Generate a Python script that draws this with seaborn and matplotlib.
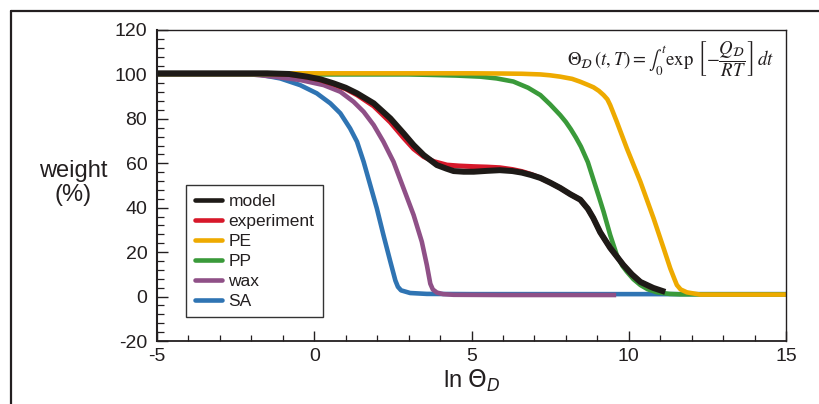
import matplotlib
matplotlib.use("Agg")
import matplotlib.pyplot as plt
import seaborn as sns
from matplotlib.lines import Line2D
from matplotlib.ticker import MultipleLocator

# ---- data ----
sa_x = [-5, -3, -2.2, -1.72, -1.08, -0.45, 0.08, 0.51, 0.83, 1.14, 1.36, 1.57, 1.78, 1.99, 2.2, 2.42, 2.58, 2.66, 2.76, 3.05, 3.58, 5, 10, 15]
sa_y = [100, 100, 100, 99.9, 98.2, 95.2, 91.5, 87, 82.5, 75.7, 69.7, 60.7, 50.2, 39.7, 27.7, 15.7, 7.2, 4.4, 2.8, 1.6, 1.2, 1.1, 1.1, 1.1]

wax_x = [-5, -2, -1.29, -0.45, 0.3, 0.83, 1.25, 1.57, 1.89, 2.2, 2.52, 2.84, 3.16, 3.42, 3.58, 3.69, 3.77, 3.9, 4.1, 4.43, 6, 9.6]
wax_y = [100, 100, 99, 97.5, 95.2, 92.2, 87.7, 83.2, 77.2, 69.7, 60.7, 48.7, 36.7, 24.7, 14.2, 5.8, 3.2, 1.8, 1.1, 0.8, 0.7, 0.7]

pp_x = [-5, 3, 3.69, 4.5, 5.28, 5.8, 6.33, 6.8, 7.19, 7.5, 7.82, 8.0, 8.16, 8.32, 8.48, 8.7, 8.88, 9.05, 9.2, 9.41, 9.62, 9.8, 9.94, 10.15, 10.37, 10.6, 10.9, 11.3, 11.64, 15]
pp_y = [100, 100, 99.8, 99.5, 99, 98.2, 96.8, 94, 90.7, 86.5, 81.7, 78.6, 75.3, 71.6, 67.5, 60.5, 52.5, 45, 38.2, 27.7, 18.7, 13.8, 11.2, 7.8, 5.2, 3.3, 1.9, 1.2, 1, 1]

pe_x = [-5, 2, 5, 6, 6.6, 7.19, 7.5, 7.82, 8.2, 8.46, 8.7, 8.88, 9.05, 9.2, 9.32, 9.41, 9.5, 9.62, 9.94, 10.37, 10.79, 11.11, 11.32, 11.45, 11.53, 11.65, 11.85, 12.27, 15]
pe_y = [100.5, 100.5, 100.5, 100.4, 100.3, 100.0, 99.6, 99, 98, 96.7, 95.3, 94.2, 92.6, 90.7, 88.8, 86.2, 83, 78.7, 66.7, 51.7, 35.2, 21.7, 12.7, 8, 5.2, 3.2, 1.9, 0.9, 0.9]

exp_x = [-5, -1.5, -0.8, -0.23, 0.2, 0.61, 1.0, 1.36, 1.89, 2.42, 2.84, 3.16, 3.48, 3.8, 4.22, 4.6, 5.07, 5.5, 5.9, 6.3, 6.6, 6.9, 7.19, 7.5, 7.82, 8.15, 8.46, 8.7, 8.87, 9.09, 9.41, 9.83, 10.1, 10.37, 10.7]
exp_y = [100.3, 100.3, 100, 98.8, 97.5, 95.6, 93.5, 90.8, 85.8, 78.5, 71.5, 66.5, 63, 60.8, 59.2, 58.8, 58.5, 58.3, 58, 57.2, 56.3, 55, 53.4, 51.3, 48.9, 46, 43.6, 39.5, 35.4, 29, 21.9, 14.2, 10, 6.6, 4.2]

model_x = [-5, -1.5, -0.8, -0.23, 0.2, 0.61, 1.0, 1.36, 1.89, 2.42, 2.84, 3.16, 3.48, 3.9, 4.2, 4.43, 4.75, 5.07, 5.5, 5.9, 6.3, 6.6, 6.9, 7.19, 7.5, 7.82, 8.15, 8.46, 8.7, 8.87, 9.09, 9.41, 9.83, 10.1, 10.37, 10.78, 11.16]
model_y = [100.5, 100.5, 100.2, 99, 97.8, 96, 94, 91.5, 87, 80.2, 73.5, 68.2, 63.7, 59.2, 57.6, 56.5, 56.2, 56.2, 56.6, 56.9, 56.5, 55.8, 54.7, 53.4, 51.3, 48.9, 46, 43.6, 39.5, 35.4, 29, 21.9, 14.2, 10, 6.6, 3.9, 2.1]

x_ticks = [-5, 0, 5, 10, 15]
y_ticks = [-20, 0, 20, 40, 60, 80, 100, 120]
legend_order = ["model", "experiment", "PE", "PP", "wax", "SA"]

colors = {
    "model": "#1e1a17",
    "experiment": "#d7182a",
    "PE": "#eeaa00",
    "PP": "#3a9a3a",
    "wax": "#8f5087",
    "SA": "#2f74b3",
}

sns.set_style("ticks")
plt.rcParams["font.family"] = ["Liberation Sans", "DejaVu Sans"]

fig = plt.figure(figsize=(8.19, 4.04), dpi=100)
W, H = 819, 404
ax = fig.add_axes([157 / W, 1 - 341 / H, (786 - 157) / W, (341 - 30) / H])

series = [
    ("SA", sa_x, sa_y, 3.3),
    ("wax", wax_x, wax_y, 3.3),
    ("PP", pp_x, pp_y, 3.3),
    ("PE", pe_x, pe_y, 3.3),
    ("experiment", exp_x, exp_y, 3.6),
    ("model", model_x, model_y, 4.3),
]
for name, xs, ys, lw in series:
    sns.lineplot(x=xs, y=ys, ax=ax, color=colors[name], linewidth=lw,
                 sort=False, estimator=None, legend=False,
                 solid_capstyle="butt", solid_joinstyle="round")

ax.set_xlim(-5, 15)
ax.set_ylim(-20, 120)
ax.set_xticks(x_ticks)
ax.set_yticks(y_ticks)
ax.set_xticklabels([str(v) for v in x_ticks])
ax.set_yticklabels([str(v) for v in y_ticks])
ax.xaxis.set_minor_locator(MultipleLocator(1))
ax.yaxis.set_minor_locator(MultipleLocator(4))
ax.tick_params(axis="both", which="both", direction="in", colors="#231f20",
               labelsize=14, labelcolor="#231f20")
ax.tick_params(axis="x", which="major", length=7, width=1.0, pad=5)
ax.tick_params(axis="x", which="minor", length=4, width=0.9)
ax.tick_params(axis="y", which="major", length=8, width=1.0, pad=7)
ax.tick_params(axis="y", which="minor", length=5, width=0.9)
for side in ["left", "bottom", "top", "right"]:
    ax.spines[side].set_visible(True)
    ax.spines[side].set_color("#231f20")
ax.spines["left"].set_linewidth(1.5)
ax.spines["bottom"].set_linewidth(1.3)
ax.spines["top"].set_linewidth(1.0)
ax.spines["right"].set_linewidth(1.0)

ax.set_xlabel(r"ln $\Theta_{\mathit{D}}$", fontsize=17, color="#231f20", labelpad=2,
              math_fontfamily="dejavusans")
fig.text(73 / W, 1 - 183 / H, "weight\n(%)", fontsize=17, color="#231f20",
         ha="center", va="center", linespacing=1.1)

# equation
fig.text(567 / W, 1 - 59 / H,
         r"$\Theta_{\mathcal{D}}\,(t,T) = \int_0^t \exp\,\left[-\dfrac{Q_{\mathcal{D}}}{RT}\right]\,dt$",
         fontsize=13.5, color="#231f20", ha="left", va="center", math_fontfamily="stix")

# legend
handles = [Line2D([0], [0], color=colors[n], linewidth=3.3) for n in legend_order]
leg = ax.legend(handles, legend_order, loc="upper left", bbox_to_anchor=(0.046, 0.502),
                borderaxespad=0, fontsize=12.5, frameon=True, fancybox=False,
                framealpha=1, edgecolor="#333333", handlelength=1.55,
                handletextpad=0.4, labelspacing=0.28, borderpad=0.5)
leg.get_frame().set_linewidth(1.0)
for t in leg.get_texts():
    t.set_color("#231f20")

# outer frame lines
fig.add_artist(Line2D([11 / W, 11 / W], [0, 1 - 11 / H], transform=fig.transFigure,
                      color="#231f20", linewidth=1.6))
fig.add_artist(Line2D([11 / W, 1], [1 - 11 / H, 1 - 11 / H], transform=fig.transFigure,
                      color="#231f20", linewidth=1.6))

fig.savefig("out.png", dpi=100)
